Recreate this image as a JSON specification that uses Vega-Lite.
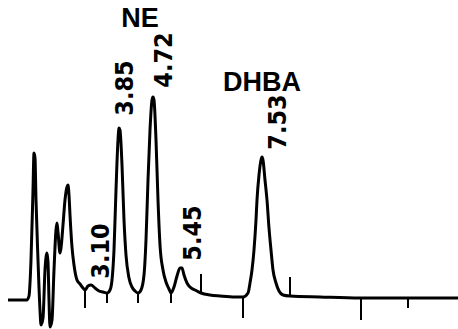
{
  "$schema": "https://vega.github.io/schema/vega-lite/v6.json",
  "width": 458,
  "height": 329,
  "padding": 0,
  "autosize": {"type": "none"},
  "background": "white",
  "config": {"view": {"stroke": null}},
  "datasets": {
    "trace": [
      {"x": 8, "s": 0}, {"x": 20, "s": 0}, {"x": 27, "s": 0}, {"x": 29, "s": 4}, {"x": 31, "s": 40}, {"x": 33, "s": 110}, {"x": 34, "s": 147}, {"x": 35, "s": 142}, {"x": 36, "s": 100}, {"x": 38, "s": 40}, {"x": 40, "s": -10}, {"x": 41, "s": -25}, {"x": 43, "s": -18}, {"x": 45, "s": 30}, {"x": 47, "s": 47}, {"x": 48, "s": 38}, {"x": 49, "s": 0}, {"x": 50, "s": -27}, {"x": 52, "s": -20}, {"x": 54, "s": 30}, {"x": 56, "s": 70}, {"x": 57, "s": 77}, {"x": 58, "s": 68}, {"x": 60, "s": 47}, {"x": 61, "s": 52}, {"x": 63, "s": 75}, {"x": 65, "s": 100}, {"x": 67, "s": 113}, {"x": 68, "s": 115}, {"x": 69, "s": 105}, {"x": 70, "s": 85}, {"x": 72, "s": 53}, {"x": 74, "s": 35}, {"x": 77, "s": 20}, {"x": 80, "s": 16}, {"x": 83, "s": 12}, {"x": 85, "s": 10}, {"x": 88, "s": 14}, {"x": 91, "s": 15}, {"x": 95, "s": 12}, {"x": 99, "s": 9}, {"x": 103, "s": 8}, {"x": 107, "s": 7}, {"x": 110, "s": 10}, {"x": 112, "s": 20}, {"x": 114, "s": 50}, {"x": 116, "s": 110}, {"x": 118, "s": 160}, {"x": 119, "s": 172}, {"x": 120, "s": 170}, {"x": 122, "s": 135}, {"x": 124, "s": 80}, {"x": 126, "s": 45}, {"x": 129, "s": 22}, {"x": 132, "s": 13}, {"x": 135, "s": 9}, {"x": 138, "s": 7}, {"x": 141, "s": 10}, {"x": 144, "s": 25}, {"x": 146, "s": 60}, {"x": 148, "s": 120}, {"x": 150, "s": 170}, {"x": 152, "s": 200}, {"x": 153, "s": 203}, {"x": 154, "s": 200}, {"x": 156, "s": 160}, {"x": 158, "s": 100}, {"x": 160, "s": 55}, {"x": 163, "s": 30}, {"x": 166, "s": 18}, {"x": 169, "s": 11}, {"x": 171, "s": 7}, {"x": 174, "s": 13}, {"x": 177, "s": 24}, {"x": 180, "s": 32}, {"x": 182, "s": 32}, {"x": 184, "s": 25}, {"x": 187, "s": 17}, {"x": 190, "s": 13}, {"x": 195, "s": 10}, {"x": 201, "s": 7}, {"x": 210, "s": 5}, {"x": 220, "s": 4}, {"x": 235, "s": 3}, {"x": 243, "s": 3}, {"x": 248, "s": 7}, {"x": 250, "s": 17}, {"x": 252, "s": 30}, {"x": 254, "s": 50}, {"x": 256, "s": 80}, {"x": 257, "s": 100}, {"x": 259, "s": 125}, {"x": 261, "s": 140}, {"x": 262, "s": 143}, {"x": 263, "s": 140}, {"x": 265, "s": 120}, {"x": 267, "s": 100}, {"x": 269, "s": 72}, {"x": 271, "s": 50}, {"x": 273, "s": 30}, {"x": 276, "s": 17}, {"x": 279, "s": 9}, {"x": 283, "s": 5}, {"x": 290, "s": 4}, {"x": 320, "s": 3}, {"x": 360, "s": 2}, {"x": 400, "s": 2}, {"x": 458, "s": 2}
    ],
    "ticks": [
      {"x": 85, "s": 10, "s2": -8},
      {"x": 107, "s": 7, "s2": -3},
      {"x": 138, "s": 7, "s2": -3},
      {"x": 171, "s": 7, "s2": -3},
      {"x": 201, "s": 7, "s2": 26},
      {"x": 243, "s": 3, "s2": -18},
      {"x": 290, "s": 4, "s2": 23},
      {"x": 361, "s": 2, "s2": -20},
      {"x": 408, "s": 2, "s2": -8}
    ],
    "times": [
      {"x": 101, "s": 49, "label": "3.10"},
      {"x": 125, "s": 212, "label": "3.85"},
      {"x": 164, "s": 240, "label": "4.72"},
      {"x": 193, "s": 67, "label": "5.45"},
      {"x": 278, "s": 178, "label": "7.53"}
    ],
    "names": [
      {"x": 140, "s": 281, "label": "NE"},
      {"x": 262, "s": 217, "label": "DHBA"}
    ]
  },
  "layer": [
    {
      "data": {"name": "trace"},
      "mark": {"type": "line", "color": "black", "strokeWidth": 3, "interpolate": "monotone"},
      "encoding": {
        "x": {"field": "x", "type": "quantitative", "scale": {"domain": [0, 458], "nice": false, "zero": false}, "axis": null},
        "y": {"field": "s", "type": "quantitative", "scale": {"domain": [-29, 300], "nice": false, "zero": false}, "axis": null}
      }
    },
    {
      "data": {"name": "ticks"},
      "mark": {"type": "rule", "color": "black", "strokeWidth": 2},
      "encoding": {
        "x": {"field": "x", "type": "quantitative"},
        "y": {"field": "s", "type": "quantitative"},
        "y2": {"field": "s2"}
      }
    },
    {
      "data": {"name": "times"},
      "mark": {"type": "text", "angle": 270, "align": "center", "baseline": "middle", "font": "Liberation Sans Narrow, DejaVu Sans Condensed, Liberation Sans", "fontWeight": "bold", "fontSize": 25, "color": "black"},
      "encoding": {
        "x": {"field": "x", "type": "quantitative"},
        "y": {"field": "s", "type": "quantitative"},
        "text": {"field": "label"}
      }
    },
    {
      "data": {"name": "names"},
      "mark": {"type": "text", "align": "center", "baseline": "middle", "font": "Liberation Sans", "fontWeight": "bold", "fontSize": 27, "color": "black"},
      "encoding": {
        "x": {"field": "x", "type": "quantitative"},
        "y": {"field": "s", "type": "quantitative"},
        "text": {"field": "label"}
      }
    }
  ]
}
